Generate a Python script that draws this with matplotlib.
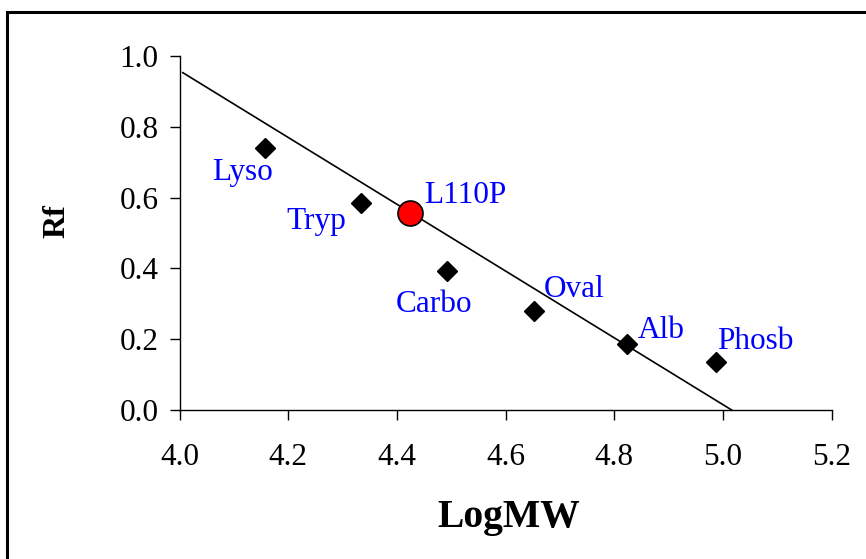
import matplotlib
matplotlib.use('Agg')
import matplotlib.pyplot as plt
from matplotlib.patches import Rectangle

# standards (diamonds)
std_names = ['Lyso', 'Tryp', 'Carbo', 'Oval', 'Alb', 'Phosb']
std_logmw = [4.158, 4.334, 4.492, 4.652, 4.823, 4.987]
std_rf = [0.740, 0.585, 0.393, 0.280, 0.186, 0.136]

# label anchor points (centre x, baseline y) in data units
label_x = [4.115, 4.251, 4.468, 4.726, 4.887, 5.059]
label_y = [0.650, 0.511, 0.278, 0.319, 0.2025, 0.171]

# mutant sample
sample_name = 'L110P'
sample_logmw = [4.424]
sample_rf = [0.557]
sample_label_xy = (4.526, 0.584)

# trendline end points
trend_x = [4.006, 5.016]
trend_y = [0.953, 0.0]

x_ticks = [4.0, 4.2, 4.4, 4.6, 4.8, 5.0, 5.2]
y_ticks = [0.0, 0.2, 0.4, 0.6, 0.8, 1.0]

plt.rcParams['font.family'] = ['Liberation Serif', 'DejaVu Serif']

fig = plt.figure(figsize=(8.66, 5.59), dpi=100)
ax = fig.add_axes([0.2073, 0.2665, 0.7531, 0.6333])

ax.plot(trend_x, trend_y, color='black', lw=1.2, zorder=2)
ax.plot(std_logmw, std_rf, linestyle='none', marker='D', ms=10.5,
        color='black', zorder=3, clip_on=False)
ax.plot(sample_logmw, sample_rf, linestyle='none', marker='o', ms=18,
        mfc='#ff0000', mec='black', mew=1.2, zorder=4, clip_on=False)

for name, lx, ly in zip(std_names, label_x, label_y):
    ax.text(lx, ly, name, color='#0000ff', fontsize=22.5, ha='center', va='baseline')
ax.text(sample_label_xy[0], sample_label_xy[1], sample_name, color='#0000ff',
        fontsize=22.5, ha='center', va='baseline')

ax.set_xlim(4.0, 5.2)
ax.set_ylim(0.0, 1.0)
ax.set_xticks(x_ticks)
ax.set_yticks(y_ticks)
ax.set_xticklabels(['%.1f' % v for v in x_ticks])
ax.set_yticklabels(['%.1f' % v for v in y_ticks])
ax.tick_params(axis='x', direction='out', length=7, width=1, pad=17, labelsize=22.5)
ax.tick_params(axis='y', direction='out', length=7, width=1, pad=8, labelsize=22.5)

for side in ['top', 'right']:
    ax.spines[side].set_visible(False)
for side in ['left', 'bottom']:
    ax.spines[side].set_linewidth(1.0)
    ax.spines[side].set_color('black')

fig.text(0.5877, 1 - 527 / 559, 'LogMW', fontsize=28.5, fontweight='bold',
         ha='center', va='baseline')
fig.text(57 / 866, 1 - 221 / 559, 'Rf', fontsize=23, fontweight='bold',
         rotation=90, ha='center', va='center')

# outer frame (only left and top edges are inside the picture)
fig.patches.append(Rectangle((7.5 / 866, -0.1), 1.2, 1.1 - 12.3 / 559,
                             transform=fig.transFigure, fill=False,
                             edgecolor='black', lw=2.2))

fig.savefig('out.png', dpi=100, facecolor='white')
